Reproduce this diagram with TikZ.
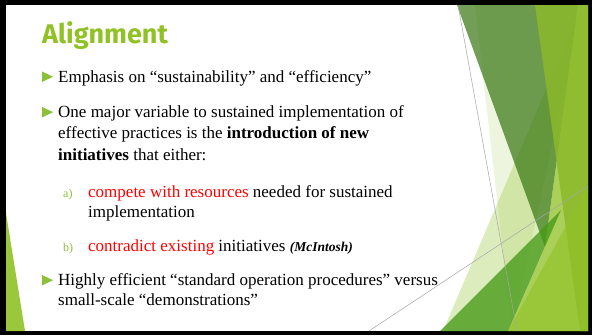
\documentclass[tikz,border=0pt]{standalone}
\usepackage{fontspec}
\setmainfont{Liberation Serif}
\newfontfamily\titlefont{Fira Sans}
\definecolor{accent}{HTML}{90C226}
\definecolor{bullet}{HTML}{8DC03A}
\definecolor{redtxt}{HTML}{FF0000}
\definecolor{mutedA}{RGB}{55,118,16}
\definecolor{oliveO}{RGB}{140,185,44}
\definecolor{midM}{RGB}{70,154,23}
\definecolor{linegray}{HTML}{A6A6A6}
\begin{document}
\begin{tikzpicture}[x=1pt,y=-1pt,
  body/.style={anchor=base west, inner sep=0pt, font=\fontsize{17}{20}\selectfont},
  sublabel/.style={anchor=base west, inner sep=0pt, text=bullet, font=\fontsize{12}{14}\selectfont},
  titletext/.style={anchor=base west, inner sep=0pt, text=accent, font=\titlefont\bfseries\fontsize{27}{32}\selectfont},
  thinline/.style={draw=linegray, line width=0.5pt}
]
% frame
\fill[black] (0,0) rectangle (592,335);
\fill[white] (6,5) rectangle (588,331);
\useasboundingbox (0,0) rectangle (592,335);

% decorative facets
\begin{scope}
\clip (6,5) rectangle (588,331);
\fill[accent, opacity=0.15] (475,5) -- (582,5) -- (512,331) -- cycle;
\fill[accent, opacity=0.3] (443,331) -- (582,5) -- (588,5) -- (588,331) -- cycle;
\fill[mutedA, opacity=0.7] (457,5) -- (578,5) -- (545,247) -- cycle;
\fill[accent, opacity=0.65] (545,247) -- (578,5) -- (588,5) -- (588,331) -- (508,331) -- cycle;
\fill[oliveO, opacity=0.85] (535,5) -- (588,5) -- (588,331) -- (580,331) -- cycle;
\fill[accent, opacity=0.6] (508,331) -- (588,186) -- (588,331) -- cycle;
\fill[midM, opacity=0.78] (440,331) -- (561,210) -- (508,331) -- cycle;
\fill[accent, opacity=0.9] (6,213) -- (25,331) -- (6,331) -- cycle;
\coordinate (l1a) at (458,5);
\coordinate (l1b) at (517,331);
\coordinate (l2a) at (369,331);
\coordinate (l2b) at (588,186);
\draw[thinline] (l1a) -- (l1b);
\draw[thinline] (l2a) -- (l2b);
\end{scope}

% title
\node[titletext] (title) at (42,43.5) {Alignment};

% bullets
\fill[bullet] (42,71.5) -- (53,76.7) -- (42,82) -- cycle;
\fill[bullet] (42,106.8) -- (53,112.2) -- (42,117.5) -- cycle;
\fill[bullet] (42,275) -- (53,280.2) -- (42,285.5) -- cycle;

% body text
\node[body] (t1) at (58,82) {Emphasis on “sustainability” and “efficiency”};
\node[body] (t2a) at (58,117) {One major variable to sustained implementation of};
\node[body] (t2b) at (58,138.5) {effective practices is the \textbf{introduction of new}};
\node[body] (t2c) at (58,160) {\textbf{initiatives} that either:};
\node[sublabel] (la) at (63,197) {a)};
\node[body] (ta1) at (88,197) {\textcolor{redtxt}{compete with resources} needed for sustained};
\node[body] (ta2) at (88,217) {implementation};
\node[sublabel] (lb) at (63,251) {b)};
\node[body] (tb) at (88,251) {\textcolor{redtxt}{contradict existing} initiatives {\fontsize{13.5}{15}\selectfont\bfseries\itshape (McIntosh)}};
\node[body] (t3a) at (58,285) {Highly efficient “standard operation procedures” versus};
\node[body] (t3b) at (58,305.5) {small-scale “demonstrations”};
\end{tikzpicture}
\end{document}
